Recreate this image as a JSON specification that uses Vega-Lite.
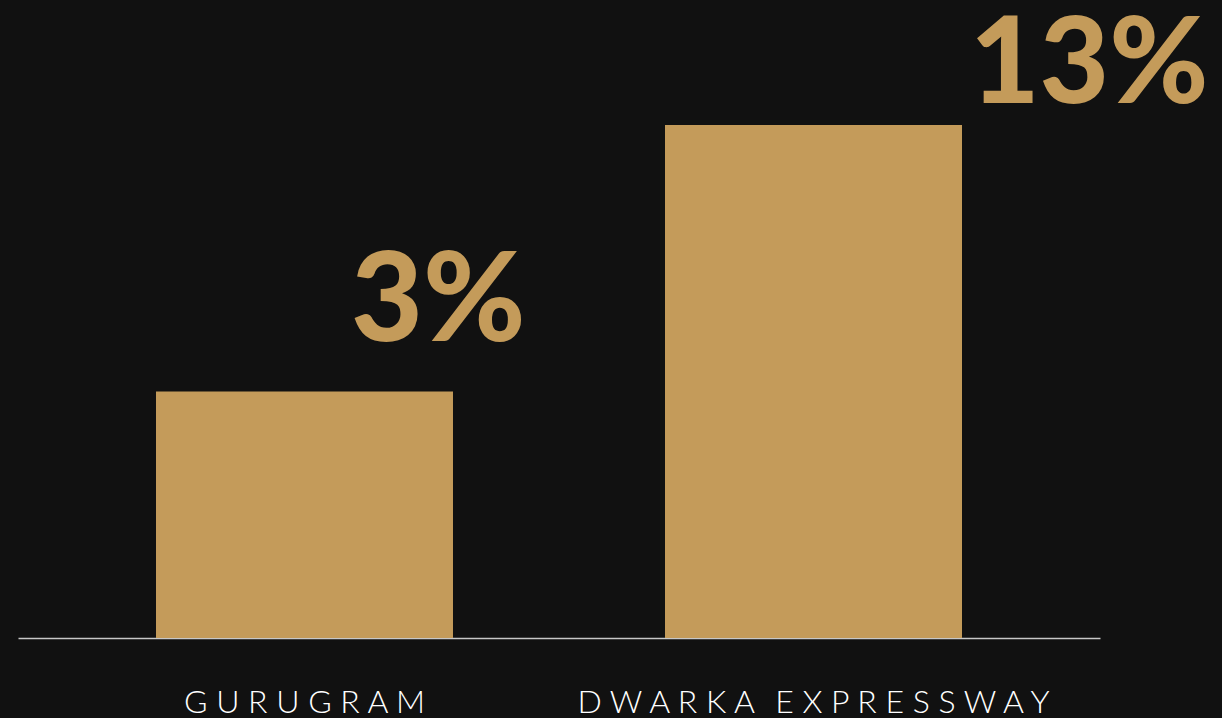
{
  "$schema": "https://vega.github.io/schema/vega-lite/v6.json",
  "width": 1082,
  "height": 569,
  "autosize": {"type": "none"},
  "padding": {"left": 18, "top": 69, "right": 122, "bottom": 80},
  "background": "#111111",
  "config": {
    "view": {"stroke": null},
    "axisX": {
      "domainColor": "#c8c8c8",
      "domainWidth": 1.5,
      "ticks": false,
      "grid": false,
      "labelColor": "#ffffff",
      "labelFont": "Lato",
      "labelFontWeight": 300,
      "labelFontSize": 32,
      "labelAngle": 0,
      "labelPadding": 74,
      "labelBaseline": "alphabetic",
      "labelLimit": 0,
      "labelOverlap": false,
      "labelExpr": "join(split(replace(datum.label, ' ', '\u2009'), ''), ' ')"
    }
  },
  "data": {
    "values": [
      {"region": "GURUGRAM", "growth": 0.03},
      {"region": "DWARKA EXPRESSWAY", "growth": 0.13}
    ]
  },
  "layer": [
    {
      "mark": {"type": "bar", "color": "#C49B5A"},
      "encoding": {
        "x": {"field": "region", "type": "nominal", "sort": null, "title": null,
              "scale": {"paddingInner": 0.4165, "paddingOuter": 0.2711}},
        "y": {"field": "growth", "type": "quantitative", "axis": null,
              "scale": {"type": "sqrt", "domain": [0, 0.16]}}
      }
    },
    {
      "transform": [{"filter": "datum.region === 'GURUGRAM'"}],
      "mark": {"type": "text", "color": "#C49B5A", "font": "Lato", "fontWeight": 900, "fontSize": 124,
               "align": "left", "baseline": "alphabetic", "dx": -102, "dy": -51},
      "encoding": {
        "x": {"field": "region", "type": "nominal", "sort": null, "title": null, "bandPosition": 1},
        "y": {"field": "growth", "type": "quantitative"},
        "text": {"field": "growth", "type": "quantitative", "format": ".0%"}
      }
    },
    {
      "transform": [{"filter": "datum.region === 'DWARKA EXPRESSWAY'"}],
      "mark": {"type": "text", "color": "#C49B5A", "font": "Lato", "fontWeight": 900, "fontSize": 120,
               "align": "left", "baseline": "alphabetic", "dx": 8, "dy": -22},
      "encoding": {
        "x": {"field": "region", "type": "nominal", "sort": null, "title": null, "bandPosition": 1},
        "y": {"field": "growth", "type": "quantitative"},
        "text": {"field": "growth", "type": "quantitative", "format": ".0%"}
      }
    }
  ]
}
